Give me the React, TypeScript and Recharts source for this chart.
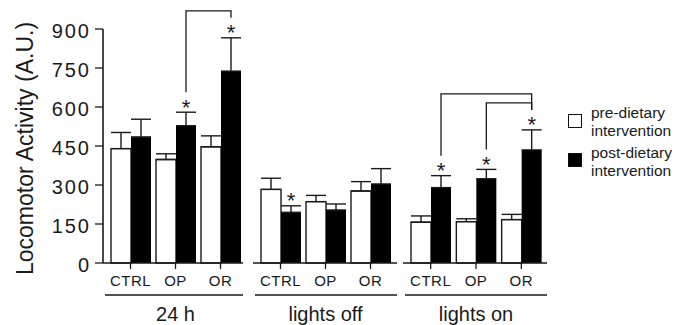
import React from 'react';
import { BarChart, Bar, XAxis, YAxis, ErrorBar, LabelList, Label, Legend } from 'recharts';

const subgroups = ['CTRL', 'OP', 'OR'];
const periods = ['24 h', 'lights off', 'lights on'];
const yTicks = [0, 150, 300, 450, 600, 750, 900];
const seriesNames = ['pre-dietary intervention', 'post-dietary intervention'];

// locomotor activity (A.U.), mean and upper error
const pre24h = [440, 398, 447];
const pre24hErr = [62, 22, 42];
const post24h = [485, 528, 738];
const post24hErr = [68, 52, 128];

const preOff = [283, 236, 277];
const preOffErr = [43, 24, 36];
const postOff = [195, 204, 304];
const postOffErr = [25, 23, 59];

const preOn = [157, 159, 167];
const preOnErr = [24, 11, 20];
const postOn = [290, 324, 435];
const postOnErr = [46, 36, 77];

// asterisk above the post bar
const star24h = [false, true, true];
const starOff = [true, false, false];
const starOn = [true, true, true];

// comparison brackets: [from, to, level]
const brackets24h = [[1, 2, 1]];
const bracketsOff: number[][] = [];
const bracketsOn = [[1, 2, 1], [0, 2, 2]];

const INK = '#1a1a1a';
const FONT = '"Liberation Sans", Arial, Helvetica, sans-serif';
const H = 325;
const TOP = 29;
const BOTTOM = 32;

const XTick = (props: any) => {
  const { x, y, payload } = props;
  return (
    <text x={x} y={y + 15} textAnchor="middle" fontSize={15} letterSpacing={0.5} fill={INK} fontFamily={FONT}>
      {payload.value}
    </text>
  );
};

const YTick = (props: any) => {
  const { x, y, payload } = props;
  return (
    <text x={x} y={y + 9} textAnchor="end" fontSize={20} letterSpacing={2} fill={INK} fontFamily={FONT}>
      {payload.value}
    </text>
  );
};

const YTitle = (props: any) => {
  const vb = props.viewBox;
  const cy = vb.y + vb.height / 2 + 2.5;
  return (
    <text x={33} y={cy} transform={`rotate(-90, 33, ${cy})`} textAnchor="middle" fontSize={23} fill={INK} fontFamily={FONT}>
      Locomotor Activity (A.U.)
    </text>
  );
};

const LegendBox = () => (
  <div style={{ fontFamily: FONT, fontSize: 15.5, lineHeight: '18px', color: INK }}>
    {seriesNames.map((n, i) => (
      <div key={n} style={{ display: 'flex', marginTop: i ? 3.7 : 0 }}>
        <div
          style={{
            width: 14,
            height: 14,
            boxSizing: 'border-box',
            border: '1.5px solid #111',
            background: i ? '#000' : '#fff',
            marginTop: 9.5,
            marginRight: 9.3,
          }}
        />
        <div>
          {n.split(' ').map((w) => (
            <div key={w}>{w}</div>
          ))}
        </div>
      </div>
    ))}
  </div>
);

type PanelProps = {
  period: string;
  pre: number[];
  preErr: number[];
  post: number[];
  postErr: number[];
  stars: boolean[];
  brackets: number[][];
  left: number;
  width: number;
  ml: number;
  mr: number;
  padL: number;
  padR: number;
  showY?: boolean;
  children?: React.ReactNode;
};

function Panel(p: PanelProps) {
  const rows = subgroups.map((name, i) => ({
    name,
    pre: p.pre[i],
    preErr: [0, p.preErr[i]],
    post: p.post[i],
    postErr: [0, p.postErr[i]],
  }));
  const yw = p.showY ? 103 : 0;
  const plotW = p.width - p.ml - p.mr - yw;
  const band = (plotW - p.padL - p.padR) / subgroups.length;

  // asterisks and brackets, placed from the bar geometry
  const marks = (props: any) => {
    const vb = props.viewBox ?? props;
    const { x, y, width, height } = vb;
    const index = props.index;
    const k = height / p.post[index];
    const base = y + height;
    const capY = (i: number) => base - (p.post[i] + p.postErr[i]) * k;
    const starY = (i: number) => capY(i) - 10;
    const cx = x + width / 2;
    const els: React.ReactNode[] = [];
    if (p.stars[index]) {
      els.push(
        <text key="s" x={cx} y={capY(index) + 2.6} textAnchor="middle" fontSize={22} fill={INK} fontFamily={FONT}>
          *
        </text>
      );
    }
    p.brackets
      .filter((b) => b[0] === index)
      .forEach(([from, to, level], j) => {
        const x2 = cx + (to - from) * band;
        const top = Math.min(starY(from), starY(to)) - 8 - 9 * level;
        els.push(
          <polyline
            key={'b' + j}
            points={`${cx},${starY(from) - 10} ${cx},${top} ${x2},${top} ${x2},${starY(to) - 10}`}
            fill="none"
            stroke={INK}
            strokeWidth={1.3}
          />
        );
      });
    return <g>{els}</g>;
  };

  const groupLabel = (lp: any) => {
    const { x, y, width } = lp.viewBox;
    const mid = x + p.padL + (width - p.padL - p.padR) / 2;
    return (
      <g>
        <line x1={x + 2} x2={x + width} y1={y + 32} y2={y + 32} stroke={INK} strokeWidth={1.4} />
        <text x={mid} y={y + 57.5} textAnchor="middle" fontSize={20} fill={INK} fontFamily={FONT}>
          {p.period}
        </text>
      </g>
    );
  };

  return (
    <div style={{ position: 'absolute', left: p.left, top: 0 }}>
      <BarChart
        width={p.width}
        height={H}
        data={rows}
        margin={{ top: TOP, right: p.mr, bottom: BOTTOM, left: p.ml }}
        barGap={0}
        barSize={20}
      >
        <XAxis
          dataKey="name"
          height={30}
          interval={0}
          padding={{ left: p.padL, right: p.padR }}
          axisLine={{ stroke: INK, strokeWidth: 1.6 }}
          tickLine={{ stroke: INK, strokeWidth: 1.3 }}
          tickSize={6}
          tick={<XTick />}
        >
          <Label content={groupLabel} />
        </XAxis>
        {p.showY ? (
          <YAxis
            width={103}
            domain={[0, 900]}
            ticks={yTicks}
            interval={0}
            axisLine={{ stroke: INK, strokeWidth: 1.6 }}
            tickLine={{ stroke: INK, strokeWidth: 1.3 }}
            tickSize={8}
            tickMargin={4}
            tick={<YTick />}
          >
            <Label content={<YTitle />} />
          </YAxis>
        ) : (
          <YAxis hide domain={[0, 900]} />
        )}
        <Bar dataKey="pre" name={seriesNames[0]} fill="#fff" stroke={INK} strokeWidth={1.4} isAnimationActive={false}>
          <ErrorBar dataKey="preErr" width={10} stroke={INK} strokeWidth={1.4} direction="y" isAnimationActive={false} />
        </Bar>
        <Bar dataKey="post" name={seriesNames[1]} fill="#000" isAnimationActive={false}>
          <ErrorBar dataKey="postErr" width={10} stroke={INK} strokeWidth={1.4} direction="y" isAnimationActive={false} />
          <LabelList dataKey="post" content={marks} />
        </Bar>
        {p.children}
      </BarChart>
    </div>
  );
}

export default function App() {
  return (
    <div
      style={{
        position: 'absolute',
        left: 0,
        top: 0,
        width: 688,
        height: 325,
        background: '#fff',
        fontFamily: FONT,
        overflow: 'hidden',
      }}
    >
      <Panel
        period={periods[0]}
        pre={pre24h}
        preErr={pre24hErr}
        post={post24h}
        postErr={post24hErr}
        stars={star24h}
        brackets={brackets24h}
        left={0}
        width={246}
        ml={0}
        mr={3}
        padL={5}
        padR={0}
        showY
      />
      <Panel
        period={periods[1]}
        pre={preOff}
        preErr={preOffErr}
        post={postOff}
        postErr={postOffErr}
        stars={starOff}
        brackets={bracketsOff}
        left={246}
        width={154}
        ml={7}
        mr={3}
        padL={5}
        padR={4}
      />
      <Panel
        period={periods[2]}
        pre={preOn}
        preErr={preOnErr}
        post={postOn}
        postErr={postOnErr}
        stars={starOn}
        brackets={bracketsOn}
        left={400}
        width={288}
        ml={3}
        mr={141}
        padL={5}
        padR={3}
      >
        <Legend
          layout="vertical"
          align="center"
          verticalAlign="middle"
          wrapperStyle={{ left: 167.7, top: 104, width: 120 }}
          content={() => <LegendBox />}
        />
      </Panel>
    </div>
  );
}
